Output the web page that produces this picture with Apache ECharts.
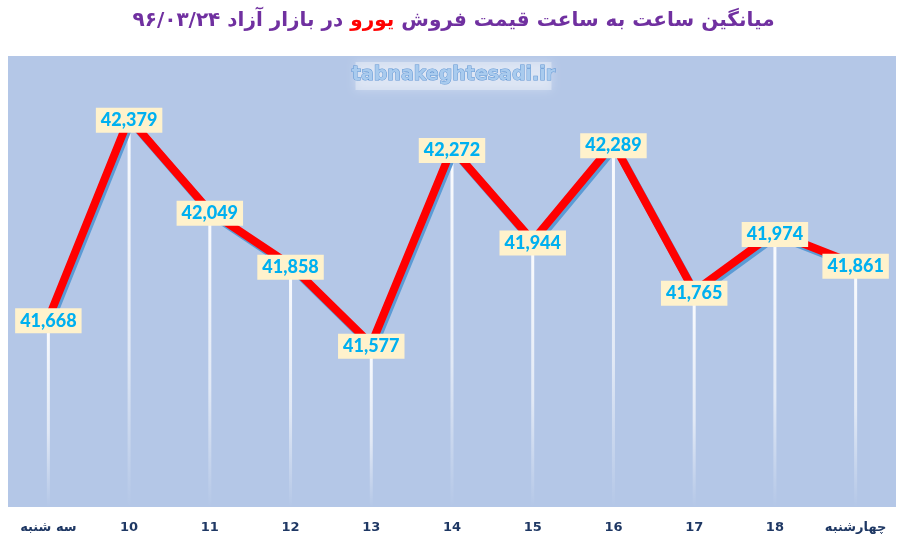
<!DOCTYPE html>
<html>
<head>
<meta charset="utf-8">
<script src="https://cdn.jsdelivr.net/npm/echarts@6/dist/echarts.min.js"></script>
<style>
  html, body { margin: 0; padding: 0; background: #fff; }
  #main { width: 907px; height: 544px; }
</style>
</head>
<body>
<div id="main"></div>
<script>
// ساعت ها
var hours = ['سه شنبه', '10', '11', '12', '13', '14', '15', '16', '17', '18', 'چهارشنبه'];
// قیمت یورو
var prices = [41668, 42379, 42049, 41858, 41577, 42272, 41944, 42289, 41765, 41974, 41861];

var myChart = echarts.init(document.getElementById('main'));

var option = {
    backgroundColor: '#fff',
    title: {
        left: 'center',
        top: 6,
        text: '{a|در بازار آزاد ۹۶/۰۳/۲۴ }{b|یورو}{a| میانگین ساعت به ساعت قیمت فروش}',
        textStyle: {
            rich: {
                a: { color: '#7030a0', fontSize: 20, fontWeight: 'bold', fontFamily: 'DejaVu Sans' },
                b: { color: '#ff0000', fontSize: 20, fontWeight: 'bold', fontFamily: 'DejaVu Sans' }
            }
        }
    },
    graphic: [{
        // هاله سفید پشت واترمارک
        type: 'rect',
        left: 'center',
        top: 62,
        shape: { width: 196, height: 28 },
        style: {
            fill: 'rgba(255,255,255,0.35)',
            shadowColor: 'rgba(255,255,255,0.9)',
            shadowBlur: 10
        },
        z: 9
    }, {
        type: 'text',
        left: 'center',
        top: 65,
        style: {
            text: 'tabnakeghtesadi.ir',
            fill: '#a9cbee',
            font: 'bold 19px "DejaVu Sans"',
            stroke: '#5f95d3',
            lineWidth: 1
        },
        z: 10
    }],
    grid: {
        left: 8,
        right: 11,
        top: 56,
        bottom: 37,
        show: true,
        backgroundColor: '#b4c7e7',
        borderWidth: 0
    },
    xAxis: {
        type: 'category',
        data: hours,
        axisLine: { show: false },
        axisTick: { show: false },
        axisLabel: {
            color: '#1f3864',
            fontWeight: 'bold',
            fontSize: 13,
            fontFamily: 'DejaVu Sans',
            margin: 14
        }
    },
    yAxis: {
        type: 'value',
        min: 41000,
        max: 42600,
        show: false,
        splitLine: { show: false }
    },
    series: [{
        // خطوط عمودی
        type: 'bar',
        data: prices,
        barWidth: 3,
        silent: true,
        itemStyle: {
            color: new echarts.graphic.LinearGradient(0, 0, 0, 1, [
                { offset: 0, color: 'rgba(255,255,255,0.95)' },
                { offset: 0.6, color: 'rgba(255,255,255,0.6)' },
                { offset: 1, color: 'rgba(255,255,255,0)' }
            ])
        },
        z: 1
    }, {
        type: 'line',
        data: prices,
        symbol: 'none',
        lineStyle: {
            color: '#ff0000',
            width: 8,
            shadowColor: '#5b9bd5',
            shadowOffsetX: 2,
            shadowOffsetY: 3,
            shadowBlur: 0
        },
        z: 3
    }, {
        // برچسب ها
        type: 'scatter',
        data: prices,
        symbolSize: 1,
        itemStyle: { color: 'rgba(0,0,0,0)', opacity: 1 },
        silent: true,
        label: {
            show: true,
            position: 'inside',
            offset: [0, 2],
            formatter: function (p) { return p.value.toLocaleString('en-US'); },
            color: '#00b0f0',
            fontWeight: 900,
            fontSize: 18,
            fontFamily: 'Lato',
            backgroundColor: '#fff2cc',
            padding: [4, 5, 3, 5]
        },
        z: 5
    }]
};

myChart.setOption(option);
</script>
</body>
</html>
